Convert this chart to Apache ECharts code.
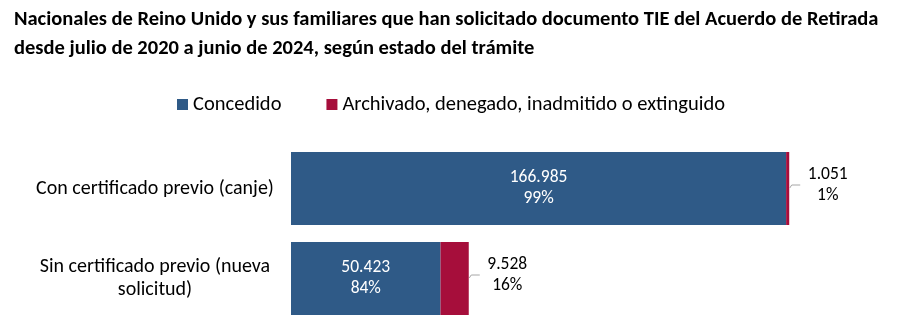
<!DOCTYPE html>
<html>
<head>
<meta charset="utf-8">
<script src="https://cdn.jsdelivr.net/npm/echarts@6/dist/echarts.min.js"></script>
<style>
  html, body { margin: 0; padding: 0; background: #ffffff; }
  #chart { width: 900px; height: 335px; }
</style>
</head>
<body>
<div id="chart"></div>
<script>
// Trámites TIE de nacionales británicos y familiares, por tipo de solicitud
const titleText = 'Nacionales de Reino Unido y sus familiares que han solicitado documento TIE del Acuerdo de Retirada\ndesde julio de 2020 a junio de 2024, según estado del trámite';
const categories = ['Con certificado previo (canje)', 'Sin certificado previo (nueva solicitud)'];
const seriesNames = ['Concedido', 'Archivado, denegado, inadmitido o extinguido'];
const concedido = [166985, 50423];
const archivado = [1051, 9528];

const FONT = 'Carlito, Lato, "Noto Sans", sans-serif';
const BLUE = '#2F5A87';
const RED = '#A60E3B';

const totals = concedido.map((v, i) => v + archivado[i]);

// Spanish-style thousands separator (also for four-digit values)
function fmtNum(v) {
  return String(v).replace(/\B(?=(\d{3})+(?!\d))/g, '.');
}
function fmtLabel(p) {
  const pct = Math.round(p.value / totals[p.dataIndex] * 100);
  return fmtNum(p.value) + '\n' + pct + '%';
}

const chart = echarts.init(document.getElementById('chart'), null, { renderer: 'canvas' });

chart.setOption({
  animation: false,
  backgroundColor: '#ffffff',
  title: {
    text: titleText,
    left: 9,
    top: 0.5,
    textStyle: {
      fontFamily: FONT,
      fontWeight: 'bold',
      fontSize: 20.5,
      lineHeight: 29,
      color: '#000000'
    }
  },
  legend: {
    data: seriesNames,
    top: 89,
    left: 172,
    icon: 'rect',
    itemWidth: 11,
    itemHeight: 11,
    itemGap: 45,
    textStyle: { fontFamily: FONT, fontSize: 20.5, color: '#000000' }
  },
  grid: { left: 291, right: 16, top: 143.5, bottom: 11.5 },
  xAxis: {
    type: 'value',
    min: 0,
    max: 200000,
    show: false
  },
  yAxis: {
    type: 'category',
    data: categories,
    inverse: true,
    axisLine: { show: false },
    axisTick: { show: false },
    axisLabel: {
      margin: 136,
      align: 'center',
      fontFamily: FONT,
      fontSize: 20,
      lineHeight: 23,
      color: '#000000',
      formatter: v => v.replace('(nueva ', '(nueva\n')
    }
  },
  series: [
    {
      name: seriesNames[0],
      type: 'bar',
      stack: 'total',
      barWidth: 73,
      data: concedido,
      itemStyle: { color: BLUE },
      label: {
        show: true,
        position: 'inside',
        color: '#ffffff',
        fontFamily: FONT,
        fontSize: 17.5,
        lineHeight: 21,
        formatter: fmtLabel
      }
    },
    {
      name: seriesNames[1],
      type: 'bar',
      stack: 'total',
      barWidth: 73,
      data: archivado,
      itemStyle: { color: RED },
      label: {
        show: true,
        position: 'right',
        distance: 38.5,
        align: 'center',
        offset: [0, -3],
        color: '#000000',
        fontFamily: FONT,
        fontSize: 17.5,
        lineHeight: 21,
        formatter: fmtLabel
      }
    },
    {
      // leader lines from the end of each bar towards its outside label
      type: 'custom',
      silent: true,
      z: 3,
      data: totals.map((t, i) => [t, i]),
      encode: { x: 0, y: 1 },
      renderItem: (params, api) => {
        const p = api.coord([api.value(0), api.value(1)]);
        const x = p[0], c = p[1];
        return {
          type: 'polyline',
          shape: { points: [[x + 0.5, c - 0.5], [x + 2.5, c - 3.5], [x + 11, c - 3.5]] },
          style: { stroke: '#A6A6A6', lineWidth: 1, fill: null }
        };
      }
    }
  ]
});
</script>
</body>
</html>
